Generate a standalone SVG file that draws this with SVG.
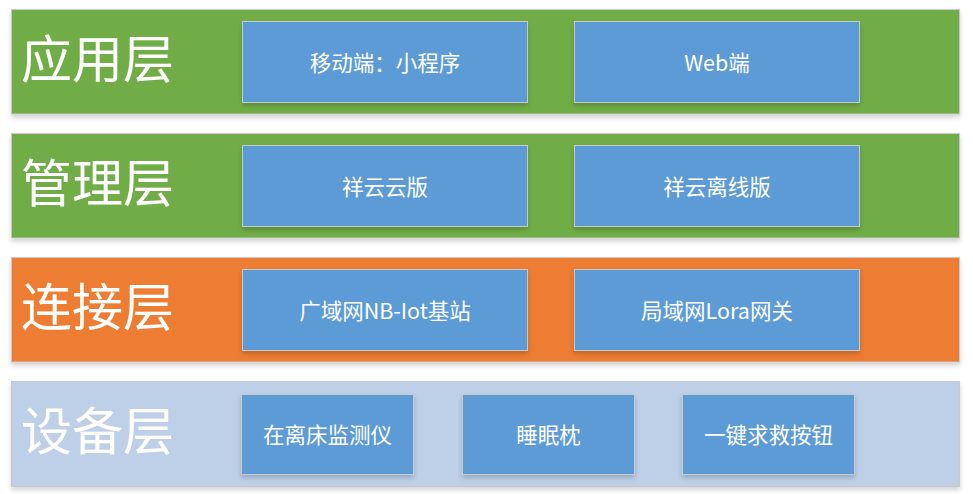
<svg xmlns="http://www.w3.org/2000/svg" width="973" height="494" viewBox="0 0 973 494">
<style>
.band{stroke:#C9C9C9;stroke-width:1}
.box{fill:#5B9BD5;stroke:#C9C9C9;stroke-width:1}
.big{font-family:"Microsoft YaHei","Noto Sans CJK SC",sans-serif;font-size:51px;fill:#FFFFFF}
.lbl{font-family:"Microsoft YaHei","Noto Sans CJK SC",sans-serif;font-size:21.5px;fill:#FFFFFF;text-anchor:middle;dominant-baseline:central}
</style>
<defs>
<filter id="sh" x="-5%" y="-10%" width="110%" height="130%">
<feDropShadow dx="0" dy="3" stdDeviation="2.5" flood-color="#000000" flood-opacity="0.18"/>
</filter>
</defs>
<rect width="973" height="494" fill="#FFFFFF"/>
<g id="layer-app">
<rect class="band" x="11.5" y="9.5" width="948" height="104.5" fill="#70AD47" filter="url(#sh)"/>
<text class="big" x="21" y="78">应用层</text>
</g>
<g id="layer-mgmt">
<rect class="band" x="11.5" y="133.5" width="948" height="104.5" fill="#70AD47" filter="url(#sh)"/>
<text class="big" x="21" y="202">管理层</text>
</g>
<g id="layer-conn">
<rect class="band" x="11.5" y="257.5" width="948" height="104.5" fill="#ED7D31" filter="url(#sh)"/>
<text class="big" x="21" y="326">连接层</text>
</g>
<g id="layer-dev">
<rect class="band" x="11.5" y="381.5" width="948" height="105" fill="#BDD0E8" filter="url(#sh)"/>
<text class="big" x="21" y="450">设备层</text>
</g>
<g id="n-mobile"><rect class="box" x="242.5" y="21.5" width="285" height="81" filter="url(#sh)"/><text class="lbl" x="385" y="61">移动端：小程序</text></g>
<g id="n-web"><rect class="box" x="574.5" y="21.5" width="285" height="81" filter="url(#sh)"/><text class="lbl" x="717" y="61">Web端</text></g>
<g id="n-cloud"><rect class="box" x="242.5" y="145.5" width="285" height="81" filter="url(#sh)"/><text class="lbl" x="385" y="185">祥云云版</text></g>
<g id="n-offline"><rect class="box" x="574.5" y="145.5" width="285" height="81" filter="url(#sh)"/><text class="lbl" x="717" y="185">祥云离线版</text></g>
<g id="n-nbiot"><rect class="box" x="242.5" y="269.5" width="285" height="81" filter="url(#sh)"/><text class="lbl" x="385" y="309">广域网NB-Iot基站</text></g>
<g id="n-lora"><rect class="box" x="574.5" y="269.5" width="285" height="81" filter="url(#sh)"/><text class="lbl" x="717" y="309">局域网Lora网关</text></g>
<g id="n-bed"><rect class="box" x="241.5" y="394.5" width="172" height="80" filter="url(#sh)"/><text class="lbl" x="327.5" y="433">在离床监测仪</text></g>
<g id="n-pillow"><rect class="box" x="462.5" y="394.5" width="172" height="80" filter="url(#sh)"/><text class="lbl" x="548.5" y="433">睡眠枕</text></g>
<g id="n-sos"><rect class="box" x="682.5" y="394.5" width="172" height="80" filter="url(#sh)"/><text class="lbl" x="768.5" y="433">一键求救按钮</text></g>
<g id="connectors"></g>
</svg>
